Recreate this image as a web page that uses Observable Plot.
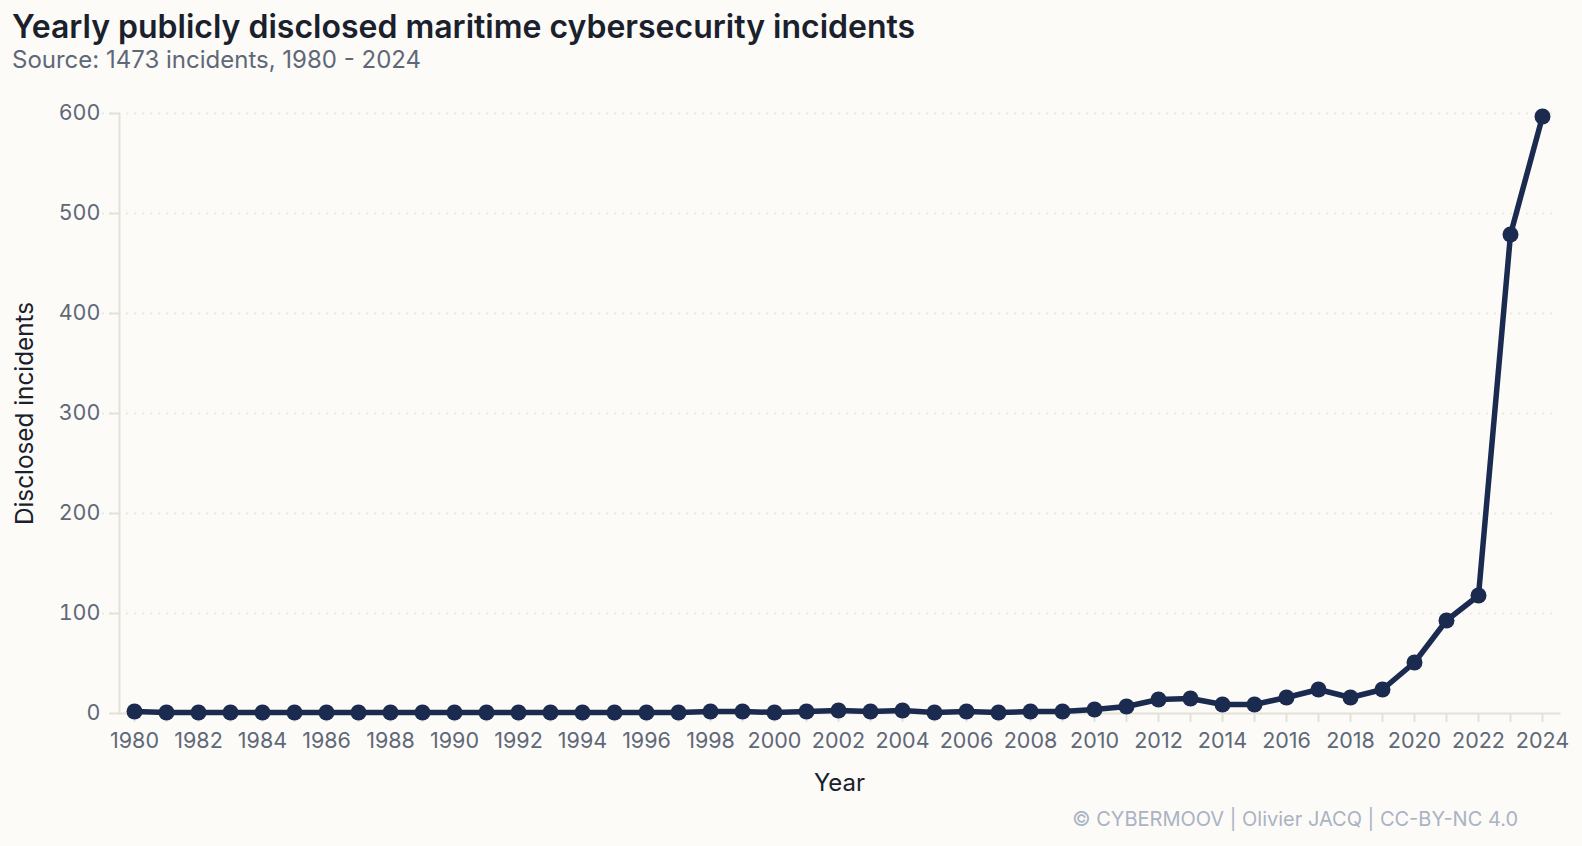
<!DOCTYPE html>
<html><head><meta charset="utf-8">
<script src="https://cdn.jsdelivr.net/npm/d3@7"></script>
<script src="https://cdn.jsdelivr.net/npm/@observablehq/plot@0.6"></script>
<style>
html,body{margin:0;padding:0;background:#fcfbf7;font-family:Inter,sans-serif;overflow:hidden}
#t{position:absolute;left:12px;top:8px;font-size:32px;line-height:38px;font-weight:600;color:#1a202c;margin:0;white-space:nowrap}
#s{position:absolute;left:12px;top:45px;font-size:24px;line-height:30px;color:#5f6878;margin:0;white-space:nowrap}
#c{position:absolute;right:64px;top:806px;font-size:20px;line-height:26px;color:#aab3c4;white-space:nowrap}
#p{position:absolute;left:0;top:79.5px}
svg{background:transparent!important}
</style></head><body>
<h1 id="t">Yearly publicly disclosed maritime cybersecurity incidents</h1>
<p id="s">Source: 1473 incidents, 1980 - 2024</p>
<div id="p"></div>
<div id="c">© CYBERMOOV | Olivier JACQ | CC-BY-NC 4.0</div>
<script>
const years = [1980,1981,1982,1983,1984,1985,1986,1987,1988,1989,1990,1991,1992,1993,1994,1995,1996,1997,1998,1999,2000,2001,2002,2003,2004,2005,2006,2007,2008,2009,2010,2011,2012,2013,2014,2015,2016,2017,2018,2019,2020,2021,2022,2023,2024];
const incidents = [2,1,1,1,1,1,1,1,1,1,1,1,1,1,1,1,1,1,2,2,1,2,3,2,3,1,2,1,2,2,4,7,14,15,9,9,16,24,16,24,51,93,118,479,597];
const yTicks = [0,100,200,300,400,500,600];
const rows = years.map((year,i)=>({year,value:incidents[i]}));
const axisCol="#e3e2d9", textCol="#5f6878", darkCol="#1a202c", lineCol="#1b2a4f";
const chart = Plot.plot({
  width:1582,height:726,marginLeft:119,marginRight:23,marginTop:33,marginBottom:93,
  style:{background:"transparent",fontFamily:"Inter, sans-serif"},
  x:{type:"band",domain:years,padding:0,axis:null,range:[118,1558]},
  y:{domain:[0,600],axis:null},
  marks:[
    Plot.ruleY(yTicks.filter(d=>d>0),{x1:years[0],x2:years[years.length-1],insetLeft:-16,stroke:"#eceae2",strokeWidth:2,strokeDasharray:"2,6"}),
    Plot.frame({anchor:"left",stroke:axisCol,strokeWidth:2}),
    Plot.frame({anchor:"bottom",stroke:axisCol,strokeWidth:2}),
    Plot.axisX({ticks:years,tickSize:9,tickPadding:10,stroke:axisCol,strokeWidth:2,fill:textCol,color:textCol,fontSize:21.5,label:null,
      tickFormat:d=>d%2===0?String(d):""}),
    Plot.axisY({ticks:yTicks,tickSize:10,tickPadding:9,stroke:axisCol,strokeWidth:2,fill:textCol,color:textCol,fontSize:21.5,label:null}),
    Plot.text(["Year"],{frameAnchor:"bottom",dy:77,fontSize:24,fill:darkCol,lineAnchor:"bottom",fontWeight:400}),
    Plot.text(["Disclosed incidents"],{frameAnchor:"left",textAnchor:"middle",dx:-94,rotate:-90,fontSize:24.3,fill:darkCol,fontWeight:400}),
    Plot.line(rows,{x:"year",y:"value",stroke:lineCol,strokeWidth:5.5}),
    Plot.dot(rows,{x:"year",y:"value",r:8,fill:lineCol})
  ]
});
document.getElementById("p").append(chart);
</script>
</body></html>
